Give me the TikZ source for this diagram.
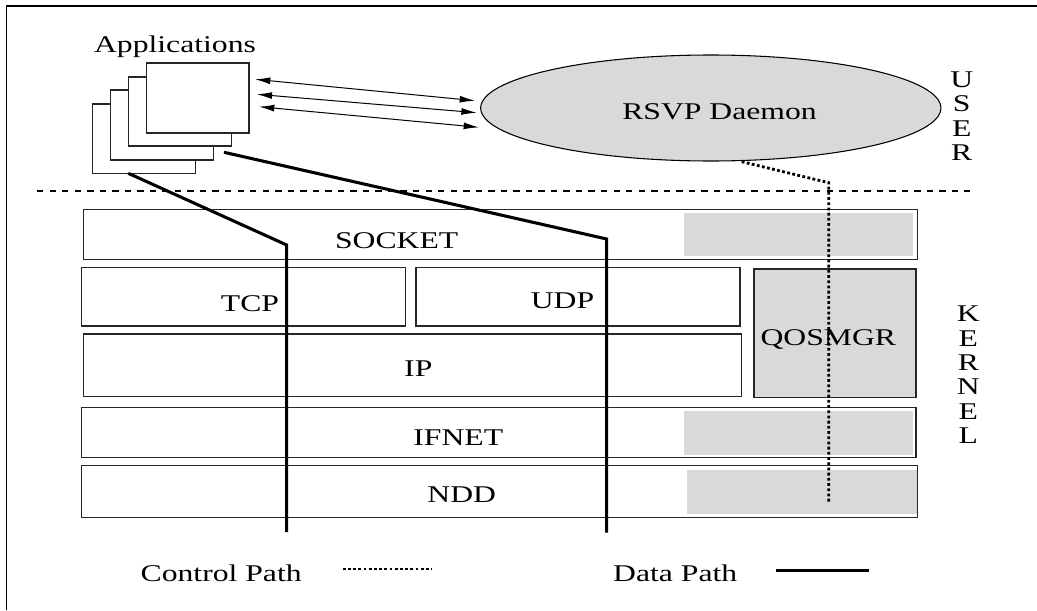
\documentclass[tikz,border=0pt]{standalone}
\usepackage{fontspec}
\setmainfont{Liberation Serif}[FakeStretch=1.32]
\usetikzlibrary{fit,shapes.geometric,arrows.meta}
\definecolor{lightg}{HTML}{D9D9D9}
\begin{document}
\begin{tikzpicture}[x=0.75pt,y=-0.75pt,
  box/.style={draw=black!85, line width=0.9pt, fill=white, inner sep=0pt},
  gbox/.style={draw=none, fill=lightg, inner sep=0pt},
  lbl/.style={font=\fontsize{18}{18.3}\selectfont, inner sep=0pt, anchor=base},
  vlbl/.style={font=\fontsize{18}{18.3}\selectfont, inner sep=0pt, align=center, anchor=north},
  datapath/.style={line width=2.3pt, line join=miter},
  ctrlpath/.style={line width=2.1pt, dash pattern=on 2.1pt off 1.8pt},
  sep/.style={line width=2.1pt, dash pattern=on 4.8pt off 4.6pt},
  dblarrow/.style={line width=0.75pt, {Latex[length=11.5pt,width=5.2pt]}-{Latex[length=11.5pt,width=5.2pt]}}]
\useasboundingbox (0,0) rectangle (1037,610);
% frame (top and left)
\draw[line width=1pt] (6.7,610) -- (6.7,6) -- (1037,6);

% applications stack
\node[box, fit={(92.7,104) (195.7,173.3)}] (app1) {};
\node[box, fit={(110.5,90) (213.3,160)}] (app2) {};
\node[box, fit={(128.7,77) (231.3,146)}] (app3) {};
\node[box, fit={(146.7,63) (249,133)}] (app4) {};
\node[lbl] (tapps) at (175,53) {Applications};

% RSVP daemon
\node[ellipse, draw, line width=0.8pt, fill=lightg, inner sep=0pt,
      minimum width=345.2pt, minimum height=79.5pt] (rsvp) at (710.8,108) {};
\node[lbl] (trsvp) at (719.5,119) {RSVP Daemon};

% arrows
\coordinate (l1) at (255,79.3);  \coordinate (r1) at (475,100.7);
\coordinate (l2) at (256.7,94.3); \coordinate (r2) at (476.7,112.7);
\coordinate (l3) at (259,106.7); \coordinate (r3) at (479,127.3);
\draw[dblarrow] (l1) -- (r1);
\draw[dblarrow] (l2) -- (r2);
\draw[dblarrow] (l3) -- (r3);

% USER / KERNEL
\node[vlbl] (user) at (961.7,71.5) {U\\S\\E\\R};
\node[vlbl] (kernel) at (968.3,305.8) {K\\E\\R\\N\\E\\L};

% separator
\coordinate (sepl) at (37,191);
\coordinate (sepr) at (970,191);
\draw[sep] (sepl) -- (sepr);

% layers
\node[box, fit={(83.3,209.3) (917.7,259.3)}] (socket) {};
\node[gbox, fit={(684,212.5) (912.7,255.7)}] (socketg) {};
\node[lbl] (tsocket) at (396.7,248.3) {SOCKET};

\node[box, fit={(81.7,267.7) (405.7,326)}] (tcp) {};
\node[lbl] (ttcp) at (250,311) {TCP};
\node[box, fit={(416,267.7) (740,326)}] (udp) {};
\node[lbl] (tudp) at (562.5,308.5) {UDP};

\node[box, fit={(83.3,334) (741.7,396.7)}] (ip) {};
\node[lbl] (tip) at (418.3,376) {IP};

\node[box, fill=lightg, fit={(754,269) (916,397.7)}] (qos) {};
\node[lbl] (tqos) at (828.3,345.7) {QOSMGR};

\node[box, fit={(81.7,407.3) (916,457.7)}] (ifnet) {};
\node[gbox, fit={(684,411) (912.7,455)}] (ifnetg) {};
\node[lbl] (tifnet) at (458.3,445) {IFNET};

\node[box, fit={(81.7,465.7) (917.7,517.3)}] (ndd) {};
\node[gbox, fit={(687,470) (916.5,513.5)}] (nddg) {};
\node[lbl] (tndd) at (461.7,502.7) {NDD};

% data paths
\coordinate (d1s) at (128.3,173.3);
\coordinate (d1k) at (286.7,245);
\coordinate (d1e) at (286.7,532);
\coordinate (d2s) at (224,152.3);
\coordinate (d2k) at (606.7,239);
\coordinate (d2e) at (606.7,532.5);
\draw[datapath] (d1s) -- (d1k) -- (d1e);
\draw[datapath] (d2s) -- (d2k) -- (d2e);

% control path
\coordinate (c0) at (741.7,161.7);
\coordinate (c1) at (828.8,182.7);
\coordinate (c2) at (828.8,501.7);
\draw[ctrlpath] (c0) -- (c1) -- (c2);

% legend
\node[lbl] (tctrl) at (221.2,581.7) {Control Path};
\coordinate (lc1) at (342.7,569);
\coordinate (lc2) at (432.3,569);
\draw[ctrlpath] (lc1) -- (lc2);
\node[lbl] (tdata) at (675.2,581.7) {Data Path};
\coordinate (ld1) at (776,570.3);
\coordinate (ld2) at (869,570.3);
\draw[datapath] (ld1) -- (ld2);
\end{tikzpicture}
\end{document}
